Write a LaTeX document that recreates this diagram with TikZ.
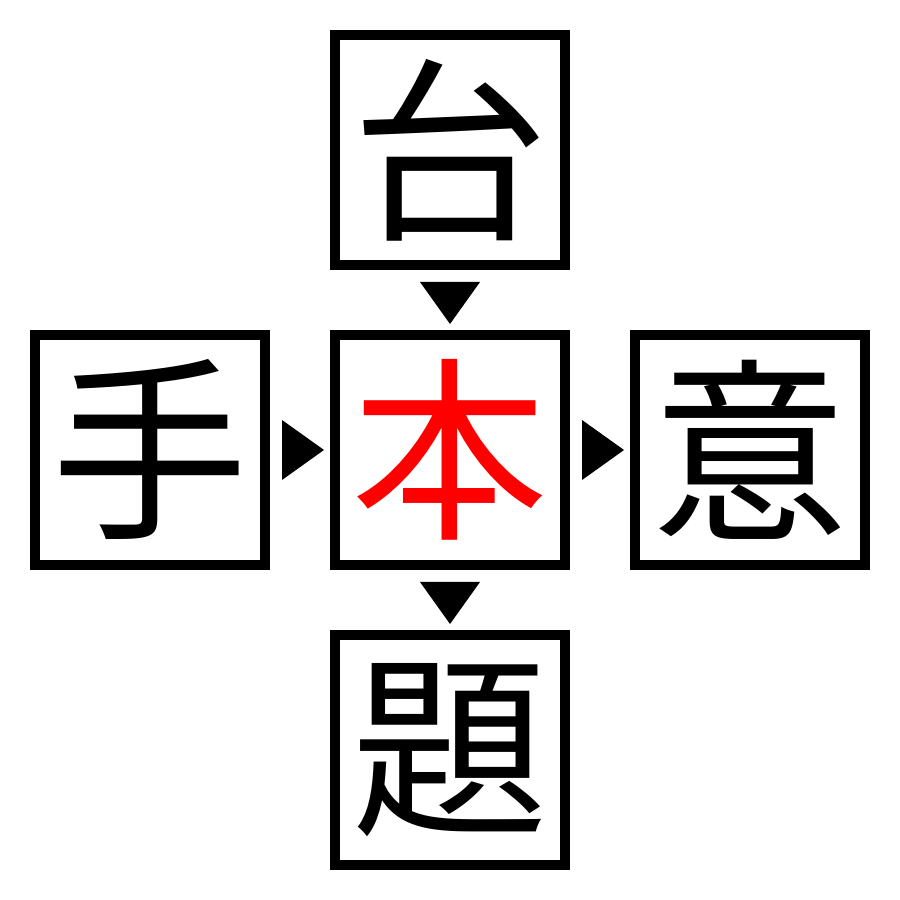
\documentclass[tikz,border=0pt]{standalone}
\usepackage{fontspec}
\newfontfamily\cjk{Noto Sans CJK JP}
\begin{document}
\begin{tikzpicture}
\tikzset{
  charbox/.style={draw=black, line width=0.1cm, minimum size=2.3cm, inner sep=0pt, outer sep=0pt,
    font=\cjk\fontsize{56}{56}\selectfont},
  marker/.style={fill=black}
}
\useasboundingbox (0,0) rectangle (9,9);
\node[charbox] (top) at (4.5,7.5) {台};
\node[charbox] (left) at (1.5,4.5) {手};
\node[charbox, text=red] (mid) at (4.5,4.5) {本};
\node[charbox] (right) at (7.5,4.5) {意};
\node[charbox] (bot) at (4.5,1.5) {題};
% markers
\fill[marker] (4.2,6.18) -- (4.8,6.18) -- (4.5,5.76) -- cycle;
\fill[marker] (4.2,3.18) -- (4.8,3.18) -- (4.5,2.76) -- cycle;
\fill[marker] (2.82,4.8) -- (2.82,4.2) -- (3.24,4.5) -- cycle;
\fill[marker] (5.82,4.8) -- (5.82,4.2) -- (6.24,4.5) -- cycle;
\end{tikzpicture}
\end{document}
